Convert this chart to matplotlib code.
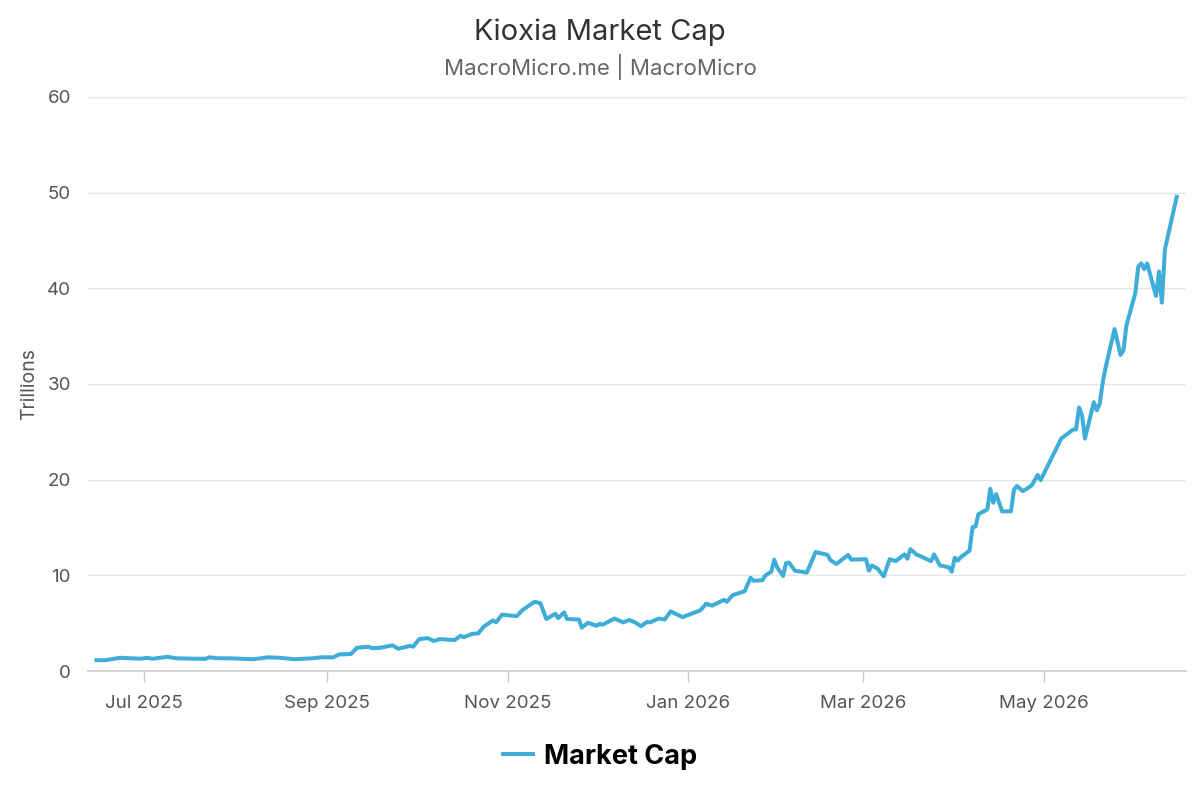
import matplotlib
matplotlib.use("Agg")
import matplotlib.pyplot as plt
import matplotlib.dates as mdates
import pandas as pd

plt.rcParams['font.family'] = ['Inter', 'DejaVu Sans']

# market cap (trillions)
dates = [
    "2025-06-15", "2025-06-18", "2025-06-23", "2025-06-30", "2025-07-02", "2025-07-04",
    "2025-07-09", "2025-07-12", "2025-07-18", "2025-07-22", "2025-07-23", "2025-07-26",
    "2025-07-30", "2025-08-07", "2025-08-12", "2025-08-16", "2025-08-21", "2025-08-27",
    "2025-08-30", "2025-09-03", "2025-09-05", "2025-09-09", "2025-09-11", "2025-09-15",
    "2025-09-16", "2025-09-19", "2025-09-23", "2025-09-25", "2025-09-29", "2025-09-30",
    "2025-10-02", "2025-10-05", "2025-10-07", "2025-10-09", "2025-10-14", "2025-10-16",
    "2025-10-17", "2025-10-20", "2025-10-22", "2025-10-24", "2025-10-27", "2025-10-28",
    "2025-10-30", "2025-11-04", "2025-11-06", "2025-11-10", "2025-11-12", "2025-11-14",
    "2025-11-17", "2025-11-18", "2025-11-20", "2025-11-21", "2025-11-25", "2025-11-26",
    "2025-11-28", "2025-12-01", "2025-12-02", "2025-12-03", "2025-12-07", "2025-12-10",
    "2025-12-12", "2025-12-14", "2025-12-16", "2025-12-18", "2025-12-19", "2025-12-22",
    "2025-12-24", "2025-12-26", "2025-12-30", "2026-01-05", "2026-01-07", "2026-01-09",
    "2026-01-13", "2026-01-14", "2026-01-16", "2026-01-20", "2026-01-22", "2026-01-23",
    "2026-01-26", "2026-01-27", "2026-01-29", "2026-01-30", "2026-01-31", "2026-02-02",
    "2026-02-03", "2026-02-04", "2026-02-06", "2026-02-10", "2026-02-13", "2026-02-17",
    "2026-02-18", "2026-02-20", "2026-02-24", "2026-02-25", "2026-03-02", "2026-03-03",
    "2026-03-04", "2026-03-06", "2026-03-08", "2026-03-10", "2026-03-12", "2026-03-15",
    "2026-03-16", "2026-03-17", "2026-03-19", "2026-03-24", "2026-03-25", "2026-03-27",
    "2026-03-30", "2026-03-31", "2026-04-01", "2026-04-02", "2026-04-03", "2026-04-06",
    "2026-04-07", "2026-04-08", "2026-04-09", "2026-04-12", "2026-04-13", "2026-04-14",
    "2026-04-15", "2026-04-17", "2026-04-20", "2026-04-21", "2026-04-22", "2026-04-24",
    "2026-04-27", "2026-04-29", "2026-04-30", "2026-05-07", "2026-05-11", "2026-05-12",
    "2026-05-13", "2026-05-14", "2026-05-15", "2026-05-18", "2026-05-19", "2026-05-20",
    "2026-05-21", "2026-05-22", "2026-05-25", "2026-05-27", "2026-05-28", "2026-05-29",
    "2026-06-01", "2026-06-02", "2026-06-03", "2026-06-04", "2026-06-05", "2026-06-08",
    "2026-06-09", "2026-06-10", "2026-06-11", "2026-06-15",
]
market_cap = [
    1.15, 1.15, 1.4, 1.3, 1.4, 1.3,
    1.5, 1.35, 1.3, 1.3, 1.45, 1.35,
    1.35, 1.25, 1.45, 1.4, 1.25, 1.35,
    1.45, 1.45, 1.75, 1.8, 2.45, 2.55,
    2.4, 2.45, 2.7, 2.35, 2.65, 2.55,
    3.35, 3.45, 3.15, 3.35, 3.25, 3.7,
    3.55, 3.9, 3.95, 4.7, 5.3, 5.1,
    5.9, 5.75, 6.4, 7.25, 7.1, 5.45,
    6.0, 5.55, 6.15, 5.45, 5.4, 4.55,
    5.05, 4.75, 4.95, 4.85, 5.5, 5.1,
    5.35, 5.1, 4.7, 5.15, 5.1, 5.5,
    5.4, 6.25, 5.65, 6.35, 7.05, 6.85,
    7.45, 7.25, 7.95, 8.35, 9.75, 9.45,
    9.5, 10.0, 10.4, 11.65, 10.85, 9.95,
    11.3, 11.35, 10.5, 10.3, 12.45, 12.15,
    11.6, 11.2, 12.15, 11.65, 11.7, 10.5,
    11.05, 10.7, 9.9, 11.7, 11.5, 12.2,
    11.75, 12.75, 12.2, 11.5, 12.2, 11.05,
    10.85, 10.4, 11.85, 11.55, 11.9, 12.6,
    15.05, 15.1, 16.4, 16.9, 19.05, 17.6,
    18.5, 16.7, 16.7, 18.95, 19.35, 18.8,
    19.4, 20.5, 19.95, 24.3, 25.25, 25.25,
    27.55, 26.75, 24.3, 28.1, 27.25, 27.95,
    30.2, 31.75, 35.75, 33.05, 33.5, 36.1,
    39.5, 42.25, 42.6, 42.0, 42.6, 39.2,
    41.75, 38.5, 44.05, 49.55,
]
y_ticks = [0, 10, 20, 30, 40, 50, 60]
x_ticks = ["2025-07-01", "2025-09-01", "2025-11-01", "2026-01-01", "2026-03-01", "2026-05-01"]

df = pd.DataFrame({"date": pd.to_datetime(dates), "value": market_cap})

fig = plt.figure(figsize=(12, 8), dpi=100)
ax = fig.add_axes([0.073, 0.161, 0.915, 0.718])

line_color = "#3eaed9"
ax.plot(df["date"], df["value"], color=line_color, lw=2.9, label="Market Cap",
        solid_joinstyle="round", zorder=3)

ax.set_ylim(0, 60)
ax.set_yticks(y_ticks)
ax.set_xlim(pd.Timestamp("2025-06-12"), pd.Timestamp("2026-06-18"))
ax.set_xticks(pd.to_datetime(x_ticks))
ax.xaxis.set_major_formatter(mdates.DateFormatter("%b %Y"))

ax.grid(axis="y", color="#e6e6e6", lw=1)
ax.set_axisbelow(True)
for s in ["top", "right", "left"]:
    ax.spines[s].set_visible(False)
ax.spines["bottom"].set_color("#cccccc")
ax.spines["bottom"].set_linewidth(1.2)

ax.tick_params(axis="y", length=0, pad=12, labelsize=13.5, labelcolor="#555555")
ax.tick_params(axis="x", length=8, width=1, color="#cccccc", pad=9,
               labelsize=13.5, labelcolor="#555555")

ax.set_ylabel("Trillions", fontsize=14, color="#555555", labelpad=6)

fig.text(0.5, 0.96, "Kioxia Market Cap", ha="center", va="center",
         fontsize=21, color="#333333")
fig.text(0.5, 0.916, "MacroMicro.me | MacroMicro", ha="center", va="center",
         fontsize=16, color="#666666")

leg = fig.legend(loc="center", bbox_to_anchor=(0.5, 0.054), frameon=False,
                 handlelength=1.1, handletextpad=0.4,
                 prop={"size": 19.5, "weight": "bold"})

fig.savefig("out.png", dpi=100)
